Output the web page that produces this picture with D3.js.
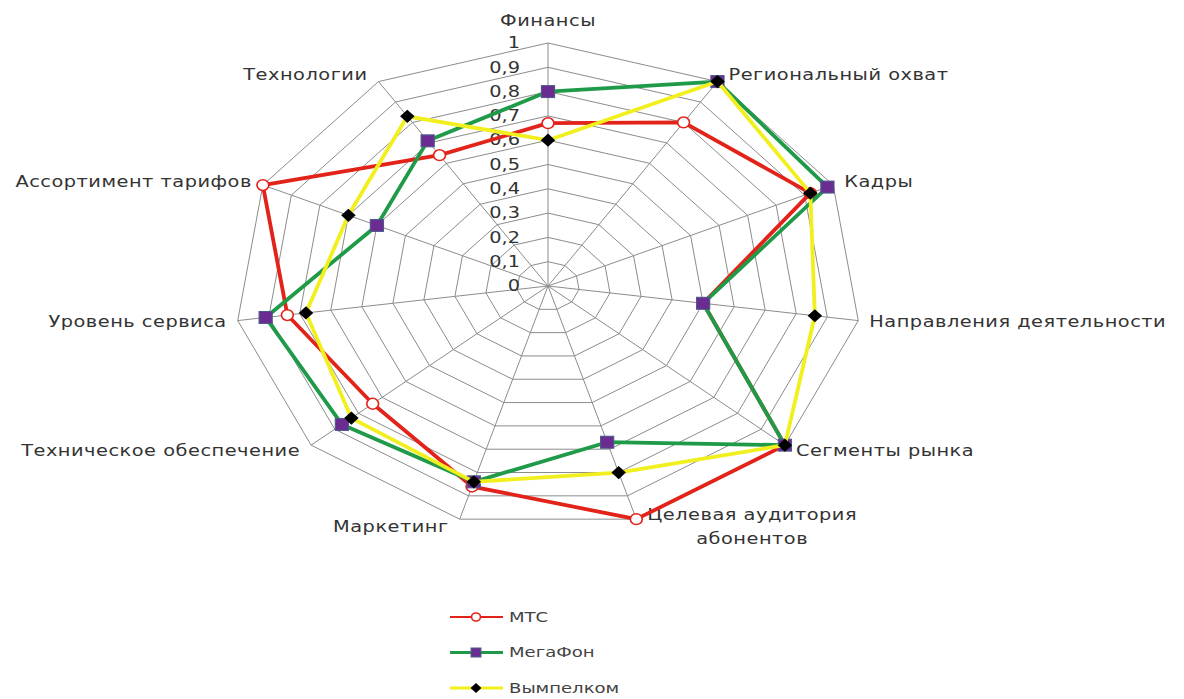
<!DOCTYPE html>
<html>
<head>
<meta charset="utf-8">
<script src="https://cdn.jsdelivr.net/npm/d3@7"></script>
<style>
  body { margin: 0; background: #fff; }
  text { font-family: "DejaVu Sans", sans-serif; fill: #333; }
</style>
</head>
<body>
<div id="chart"></div>
<script>
let categories = ["Финансы", "Региональный охват", "Кадры", "Направления деятельности",
    "Сегменты рынка", "Целевая аудитория|абонентов", "Маркетинг", "Техническое обеспечение",
    "Уровень сервиса", "Ассортимент тарифов", "Технологии"];

let seriesNames = ["МТС", "МегаФон", "Вымпелком"];
let mtsValues = [0.67, 0.80, 0.92, 0.50, 1.00, 1.00, 0.86, 0.74, 0.84, 1.00, 0.64];
let megafonValues = [0.80, 1.00, 0.98, 0.50, 1.00, 0.67, 0.84, 0.87, 0.91, 0.60, 0.71];
let vympelkomValues = [0.60, 1.00, 0.92, 0.86, 1.00, 0.80, 0.84, 0.83, 0.78, 0.70, 0.83];

let tickValues = [0, 0.1, 0.2, 0.3, 0.4, 0.5, 0.6, 0.7, 0.8, 0.9, 1];
let tickLabels = ["0", "0,1", "0,2", "0,3", "0,4", "0,5", "0,6", "0,7", "0,8", "0,9", "1"];

let svgWidth = 1184;
let svgHeight = 699;
let cx = 548, cy = 286;
let radiusY = 243;
let stretch = 1.29;   // picture is wider than tall

let svg = d3.select("#chart").append("svg")
    .attr("width", svgWidth)
    .attr("height", svgHeight);

let rScale = d3.scaleLinear().domain([0, 1]).range([0, radiusY]);
let angle = d3.scaleLinear().domain([0, categories.length]).range([0, 2 * Math.PI]);

function px(i, v) { return cx + stretch * rScale(v) * Math.sin(angle(i)); }
function py(i, v) { return cy - rScale(v) * Math.cos(angle(i)); }

let grid = svg.append("g");

// rings
tickValues.slice(1).forEach(function(t) {
    let pts = categories.map((c, i) => [px(i, t), py(i, t)]);
    grid.append("path")
        .attr("d", d3.line()(pts) + "Z")
        .attr("fill", "none")
        .attr("stroke", "#8c8c8c")
        .attr("stroke-width", 1);
});

// spokes
categories.forEach(function(c, i) {
    grid.append("line")
        .attr("x1", cx).attr("y1", cy)
        .attr("x2", px(i, 1)).attr("y2", py(i, 1))
        .attr("stroke", "#8c8c8c")
        .attr("stroke-width", 1);
});

// tick labels
grid.selectAll(".tick")
    .data(tickValues)
    .enter()
    .append("text")
    .attr("transform", t => `translate(${cx - 28}, ${cy - rScale(t)}) scale(${stretch},1)`)
    .attr("text-anchor", "end")
    .attr("dy", "0.35em")
    .style("font-size", "15px")
    .text((t, i) => tickLabels[i]);

// axis labels
categories.forEach(function(c, i) {
    let s = Math.sin(angle(i)), co = Math.cos(angle(i));
    let anchor = s > 0.1 ? "start" : (s < -0.1 ? "end" : "middle");
    let x = px(i, 1) + (s > 0.1 ? 11 : (s < -0.1 ? -11 : 0));
    let y = py(i, 1) - co * 8 - (i === 0 ? 14 : 0);
    let lines = c.split("|");
    y -= (lines.length - 1) * 12;
    let label = svg.append("text")
        .attr("transform", `translate(${x}, ${y}) scale(${stretch},1)`)
        .attr("text-anchor", anchor)
        .attr("dy", "0.35em")
        .style("font-size", "15px")
        .style("letter-spacing", "0.4px");
    let first = label.append("tspan").attr("x", 0).text(lines[0]);
    if (lines.length > 1) {
        let w = first.node().getComputedTextLength();
        label.append("tspan")
            .attr("x", anchor === "start" ? w / 2 : 0)
            .attr("dy", 24)
            .attr("text-anchor", "middle")
            .text(lines[1]);
    }
});

// series
let seriesColors = ["#e2231a", "#1f9a48", "#f2ef1f"];
let allValues = [mtsValues, megafonValues, vympelkomValues];

function drawMarker(g, k, x, y, size) {
    let m = g.append("g").attr("transform", `translate(${x}, ${y}) scale(${stretch * 0.85},1)`);
    if (k === 0) {
        m.append("circle").attr("r", size * 0.45)
            .attr("fill", "#fff").attr("stroke", "#e2231a").attr("stroke-width", 1.5);
    } else if (k === 1) {
        m.append("rect")
            .attr("x", -size / 2).attr("y", -size / 2)
            .attr("width", size).attr("height", size)
            .attr("fill", "#6b2c91").attr("stroke", "#4a5a8a").attr("stroke-width", 1);
    } else {
        m.append("path")
            .attr("d", `M0,${-size * 0.55}L${size * 0.55},0L0,${size * 0.55}L${-size * 0.55},0Z`)
            .attr("fill", "#000");
    }
}

allValues.forEach(function(vals, k) {
    let g = svg.append("g");
    let pts = vals.map((v, i) => [px(i, v), py(i, v)]);
    g.append("path")
        .attr("d", d3.line()(pts) + "Z")
        .attr("fill", "none")
        .attr("stroke", seriesColors[k])
        .attr("stroke-width", 3.8)
        .attr("stroke-linejoin", "round");
    pts.forEach(p => drawMarker(g, k, p[0], p[1], 12));
});

// legend
let legend = svg.append("g").attr("transform", "translate(450, 617)");
seriesNames.forEach(function(name, k) {
    let row = legend.append("g").attr("transform", `translate(0, ${k * 35.5})`);
    row.append("line")
        .attr("x1", 0).attr("x2", 53).attr("y1", 0).attr("y2", 0)
        .attr("stroke", seriesColors[k])
        .attr("stroke-width", k === 0 ? 2 : 3);
    drawMarker(row, k, 26, 0, 9);
    row.append("text")
        .attr("transform", `translate(59, 0) scale(${stretch},1)`)
        .attr("dy", "0.35em")
        .style("font-size", "14px")
        .style("fill", "#444")
        .text(name);
});
</script>
</body>
</html>
